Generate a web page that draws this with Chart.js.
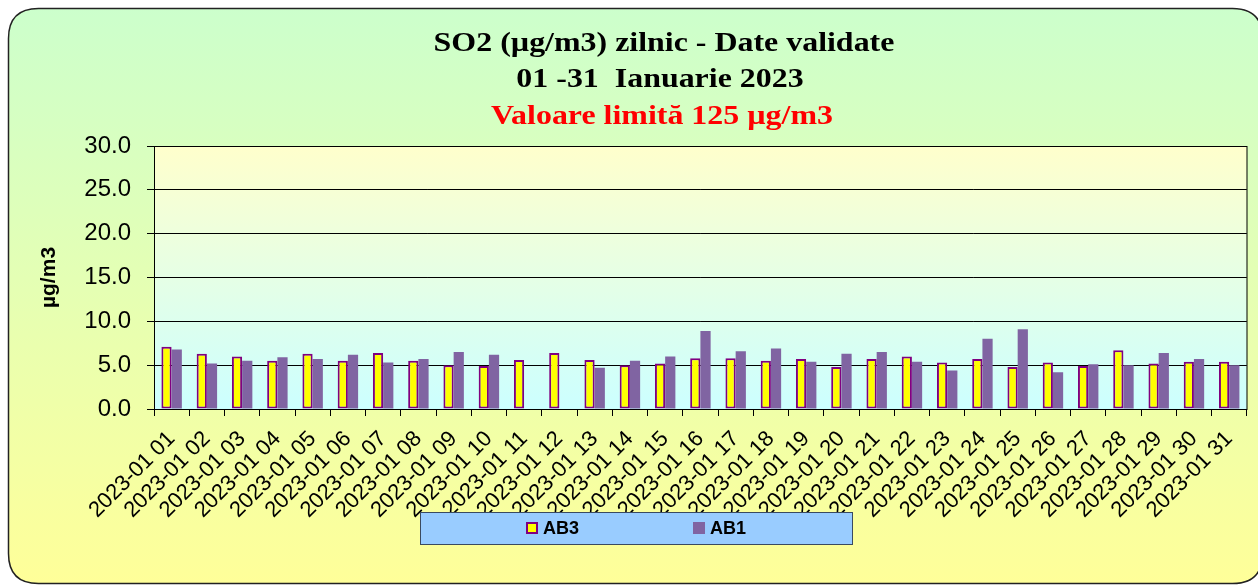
<!DOCTYPE html>
<html>
<head>
<meta charset="utf-8">
<script src="https://cdn.jsdelivr.net/npm/chart.js@4/dist/chart.umd.min.js"></script>
<style>
html,body{margin:0;padding:0;background:#ffffff;}
#wrap{width:1258px;height:585px;position:relative;}
</style>
</head>
<body>
<div id="wrap"><canvas id="c" width="1258" height="585"></canvas></div>
<script>
const titleLines = ["SO2 (µg/m3) zilnic - Date validate", "01 -31  Ianuarie 2023"];
const limitLine = "Valoare limită 125 µg/m3";
const yAxisTitle = "µg/m3";
const categories = ["2023-01 01","2023-01 02","2023-01 03","2023-01 04","2023-01 05","2023-01 06","2023-01 07","2023-01 08","2023-01 09","2023-01 10","2023-01 11","2023-01 12","2023-01 13","2023-01 14","2023-01 15","2023-01 16","2023-01 17","2023-01 18","2023-01 19","2023-01 20","2023-01 21","2023-01 22","2023-01 23","2023-01 24","2023-01 25","2023-01 26","2023-01 27","2023-01 28","2023-01 29","2023-01 30","2023-01 31"];
const seriesNames = ["AB3", "AB1"];
const ab3 = [7.1, 6.3, 6.0, 5.5, 6.3, 5.5, 6.4, 5.5, 5.0, 4.9, 5.6, 6.4, 5.6, 5.0, 5.2, 5.8, 5.8, 5.5, 5.7, 4.8, 5.7, 6.0, 5.3, 5.7, 4.8, 5.3, 4.9, 6.7, 5.2, 5.4, 5.4];
const ab1 = [6.8, 5.2, 5.5, 5.9, 5.7, 6.2, 5.3, 5.7, 6.5, 6.2, null, null, 4.7, 5.5, 6.0, 8.9, 6.6, 6.9, 5.4, 6.3, 6.5, 5.4, 4.4, 8.0, 9.1, 4.2, 5.1, 5.0, 6.4, 5.7, 5.0];
const yMin = 0, yMax = 30, yStep = 5;

const SANS = 'Arial, "Liberation Sans", sans-serif';
const SERIF = '"Times New Roman", "Liberation Serif", serif';

function roundRect(ctx, x, y, w, h, r) {
  ctx.beginPath();
  ctx.moveTo(x + r, y);
  ctx.lineTo(x + w - r, y);
  ctx.quadraticCurveTo(x + w, y, x + w, y + r);
  ctx.lineTo(x + w, y + h - r);
  ctx.quadraticCurveTo(x + w, y + h, x + w - r, y + h);
  ctx.lineTo(x + r, y + h);
  ctx.quadraticCurveTo(x, y + h, x, y + h - r);
  ctx.lineTo(x, y + r);
  ctx.quadraticCurveTo(x, y, x + r, y);
  ctx.closePath();
}

function wideText(ctx, text, cx, baseY, sx) {
  ctx.save();
  ctx.translate(cx, baseY);
  ctx.scale(sx, 1);
  ctx.fillText(text, 0, 0);
  ctx.restore();
}

const decor = {
  id: 'decor',
  beforeDraw(chart) {
    const ctx = chart.ctx;
    const a = chart.chartArea;
    ctx.save();
    const g = ctx.createLinearGradient(0, 8, 0, 583);
    g.addColorStop(0, '#ccffcc');
    g.addColorStop(1, '#ffff99');
    roundRect(ctx, 8.5, 8.5, 1254, 575, 30);
    ctx.fillStyle = g;
    ctx.fill();
    ctx.lineWidth = 1.5;
    ctx.strokeStyle = '#222';
    ctx.stroke();
    const pg = ctx.createLinearGradient(0, a.top, 0, a.bottom);
    pg.addColorStop(0, '#ffffcc');
    pg.addColorStop(1, '#ccffff');
    ctx.fillStyle = pg;
    ctx.fillRect(a.left, a.top, a.right - a.left, a.bottom - a.top);
    ctx.restore();
  },
  afterDraw(chart) {
    const ctx = chart.ctx;
    const a = chart.chartArea;
    ctx.save();
    ctx.strokeStyle = '#000';
    ctx.lineWidth = 1;
    ctx.strokeRect(Math.round(a.left) + 0.5, Math.round(a.top) + 0.5, Math.round(a.right - a.left) - 0.5, Math.round(a.bottom - a.top));
    // titles
    ctx.textAlign = 'center';
    ctx.textBaseline = 'alphabetic';
    ctx.fillStyle = '#000';
    ctx.font = 'bold 28px ' + SERIF;
    wideText(ctx, titleLines[0], 664, 51, 1.14);
    wideText(ctx, titleLines[1], 660, 87, 1.14);
    ctx.fillStyle = '#ff0000';
    wideText(ctx, limitLine, 662, 124, 1.14);
    // legend
    ctx.fillStyle = '#99ccff';
    ctx.fillRect(420.5, 512.5, 432, 32);
    ctx.strokeStyle = '#3a4a60';
    ctx.lineWidth = 1;
    ctx.strokeRect(420.5, 512.5, 432, 32);
    const ds = chart.data.datasets;
    const items = [{x: 526, tx: 543}, {x: 693, tx: 710}];
    ctx.textAlign = 'left';
    ctx.textBaseline = 'middle';
    ctx.font = 'bold 18px ' + SANS;
    ds.forEach((d, i) => {
      const it = items[i];
      ctx.fillStyle = d.backgroundColor;
      ctx.fillRect(it.x, 522, 12, 12);
      if (d.borderWidth) {
        ctx.strokeStyle = d.borderColor;
        ctx.lineWidth = 2;
        ctx.strokeRect(it.x + 1, 523, 10, 10);
      }
      ctx.fillStyle = '#000';
      ctx.fillText(d.label, it.tx, 529);
    });
    ctx.restore();
  }
};

new Chart(document.getElementById('c'), {
  type: 'bar',
  data: {
    labels: categories,
    datasets: [
      { label: seriesNames[0], data: ab3, backgroundColor: '#ffff00', borderColor: '#800080', borderWidth: 2, borderSkipped: false },
      { label: seriesNames[1], data: ab1, backgroundColor: '#8064a2', borderWidth: 0 }
    ]
  },
  options: {
    responsive: false,
    animation: false,
    layout: { padding: { top: 146, left: 30, right: 9, bottom: 66 } },
    datasets: { bar: { categoryPercentage: 0.58, barPercentage: 1.0 } },
    plugins: { legend: { display: false }, title: { display: false }, tooltip: { enabled: false } },
    scales: {
      x: {
        grid: { display: true, drawOnChartArea: false, drawTicks: true, tickLength: 7, color: '#000', offset: true },
        border: { display: true, color: '#000', width: 1 },
        ticks: { autoSkip: false, minRotation: 45, maxRotation: 45, color: '#000', font: { family: SANS, size: 22 }, padding: 10 },
        afterFit(scale) { scale.height = 110; }
      },
      y: {
        min: yMin, max: yMax,
        grid: { color: '#000', lineWidth: 1, drawTicks: true, tickLength: 7 },
        border: { display: true, color: '#000', width: 1 },
        ticks: { stepSize: yStep, color: '#000', font: { family: SANS, size: 24 }, padding: 16, callback: v => Number(v).toFixed(1) },
        title: { display: true, text: yAxisTitle, color: '#000', font: { family: SANS, size: 21, weight: 'bold' }, padding: { top: 7, bottom: 0 } },
        afterFit(scale) { scale.width = 124; }
      }
    }
  },
  plugins: [decor]
});
</script>
</body>
</html>
